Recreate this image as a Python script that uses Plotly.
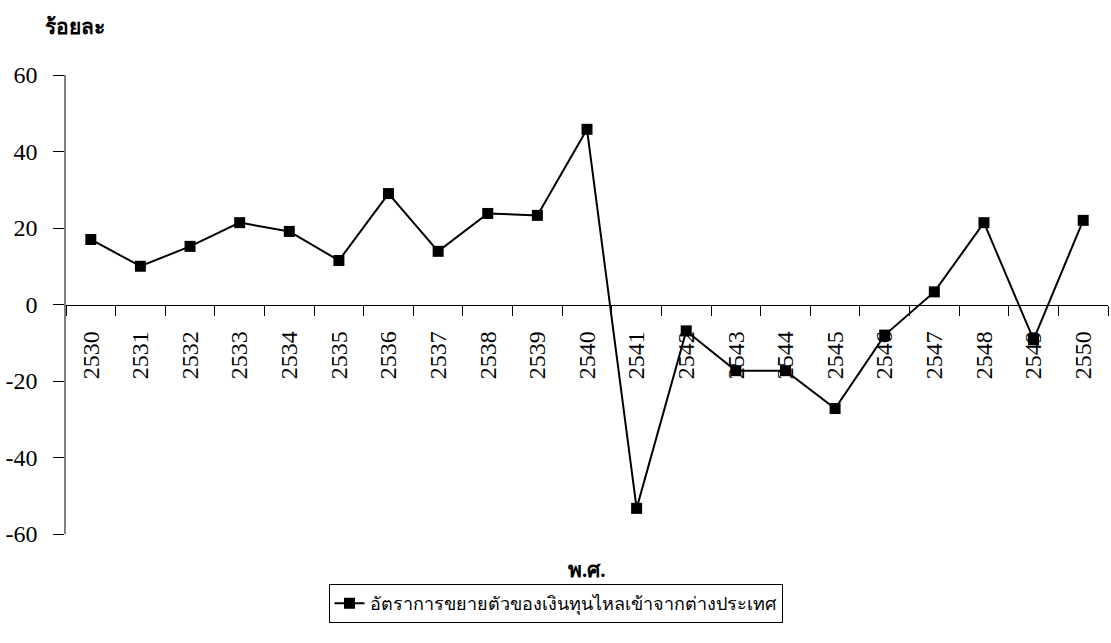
import plotly.graph_objects as go

# Buddhist-era years on the category axis
years = [str(y) for y in range(2530, 2551)]
# Growth rate of foreign capital inflows (percent)
growth = [17.0, 10.0, 15.2, 21.4, 19.1, 11.5, 29.0, 13.9, 23.8, 23.3, 45.8,
          -53.3, -6.9, -17.3, -17.3, -27.2, -8.0, 3.3, 21.4, -9.2, 22.0]
series_name = "อัตราการขยายตัวของเงินทุนไหลเข้าจากต่างประเทศ"
y_ticks = [-60, -40, -20, 0, 20, 40, 60]
y_tick_text = ["-60", "-40", "-20", "0", "20", "40", "60"]

serif = "Times New Roman"

fig = go.Figure()
fig.add_trace(go.Scatter(
    x=years, y=growth, name=series_name, mode="lines+markers",
    line=dict(color="black", width=2),
    marker=dict(symbol="square", size=11, color="black"),
))

fig.update_layout(
    width=1111, height=643,
    margin=dict(l=66, r=3, t=75, b=109, autoexpand=False),
    paper_bgcolor="white", plot_bgcolor="white",
    font=dict(family=serif, color="black", size=22),
    showlegend=True,
    legend=dict(
        orientation="h", xref="container", yref="container",
        x=0.5, xanchor="center", y=1 - 584 / 643, yanchor="top",
        bordercolor="black", borderwidth=1, bgcolor="white",
        font=dict(size=18, family=serif),
    ),
    xaxis=dict(
        type="category", anchor="free", position=0.5,
        showline=True, linecolor="black", linewidth=1.2,
        ticks="outside", tickson="boundaries", ticklen=10,
        tickcolor="black", tickwidth=1.2,
        tickangle=-90, tickfont=dict(size=24, family=serif),
        ticklabelstandoff=16,
        showgrid=False, zeroline=False,
        range=[-0.5, len(years) - 0.5],
    ),
    yaxis=dict(
        range=[-60, 60], tickvals=y_ticks, ticktext=y_tick_text,
        showline=True, linecolor="#808080", linewidth=1.5,
        ticks="outside", ticklen=11, tickcolor="black", tickwidth=1.2,
        tickfont=dict(size=24, family=serif),
        ticklabelstandoff=11,
        showgrid=False, zeroline=False,
    ),
    annotations=[
        dict(text="<b>ร้อยละ</b>", xref="paper", yref="paper",
             x=-0.022, y=1.105, xanchor="left", yanchor="middle",
             showarrow=False, font=dict(size=21, family=serif)),
        dict(text="<b>พ.ศ.</b>", xref="paper", yref="paper",
             x=0.5, y=-0.078, xanchor="center", yanchor="middle",
             showarrow=False, font=dict(size=21, family=serif)),
    ],
)

fig.write_html("out.html")
